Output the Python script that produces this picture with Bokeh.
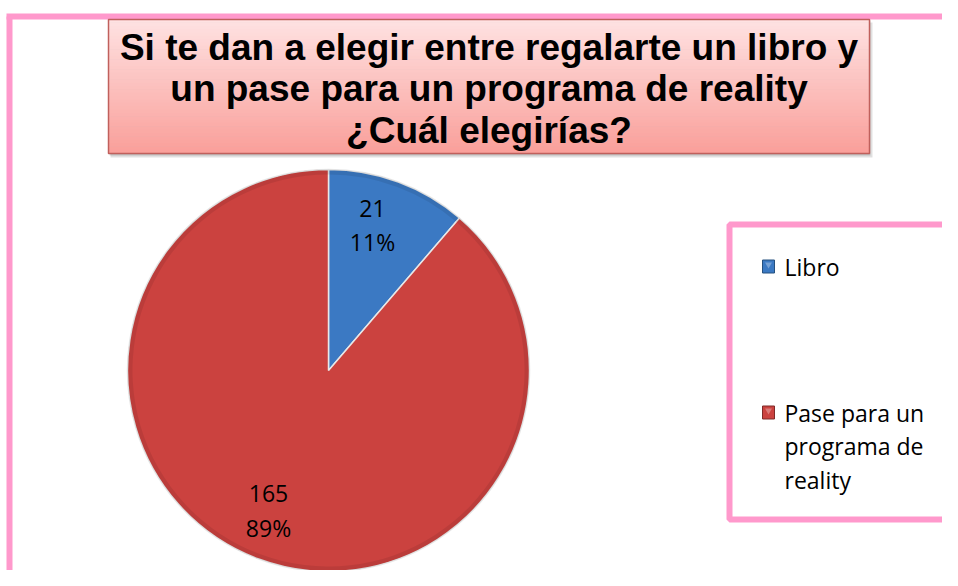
import math
from bokeh.plotting import figure
from bokeh.models import Range1d, ColumnDataSource
from bokeh.core.properties import value
from bokeh.embed import file_html
from bokeh.resources import INLINE

# ---- data ----
categories = ["Libro", "Pase para un programa de reality"]
counts = [21, 165]
colors = ["#3B79C3", "#CB423F"]
legend_lines = [["Libro"], ["Pase para un", "programa de", "reality"]]
title_lines = ["Si te dan a elegir entre regalarte un libro y",
               "un pase para un programa de reality",
               "¿Cuál elegirías?"]

W, H = 942, 570
p = figure(width=W, height=H, output_backend="svg", toolbar_location=None,
           x_range=Range1d(0, W), y_range=Range1d(0, H),
           min_border=0, outline_line_color=None)
p.axis.visible = False
p.grid.visible = False
p.background_fill_color = "white"
p.border_fill_color = "white"

def px(X):
    return X

def py(Y):
    return H - Y

PINK = "#FF99CC"
# outer frame (top and left visible)
p.segment(x0=[px(9), px(6)], y0=[py(16), py(16)], x1=[px(9), W + 5], y1=[py(600), py(16)],
          line_color=PINK, line_width=6)

# ---- title box with vertical gradient ----
bx0, bx1, by0, by1 = px(108), px(869), py(19), py(153)
p.quad(left=bx0 + 2, right=bx1 + 3, top=by0 - 3, bottom=by1 - 4, fill_color="#000000",
       fill_alpha=0.12, line_color=None)
p.quad(left=bx0 + 1, right=bx1 + 1, top=by0 - 1, bottom=by1 - 2, fill_color="#000000",
       fill_alpha=0.15, line_color=None)
n = 40
top_c = (255, 226, 226)
bot_c = (250, 160, 155)
for i in range(n):
    t = i / (n - 1)
    c = tuple(int(top_c[k] + (bot_c[k] - top_c[k]) * t) for k in range(3))
    yt = by0 - (by0 - by1) * i / n
    yb = by0 - (by0 - by1) * (i + 1) / n
    p.quad(left=bx0, right=bx1, top=yt + 0.5, bottom=yb, fill_color="#%02x%02x%02x" % c,
           line_color=None)
p.quad(left=bx0, right=bx1, top=by0, bottom=by1, fill_color=None,
       line_color="#C0605C", line_width=1.5)

title_y = [py(47), py(88), py(130)]
p.text(x=[(bx0 + bx1) / 2] * 3, y=title_y, text=title_lines,
       text_font=value("Liberation Sans"), text_font_style="bold",
       text_font_size="37px", text_align="center", text_baseline="middle",
       text_color="black")

# ---- pie ----
cx, cy, r = px(328), py(370), 201
total = sum(counts)
starts, ends = [], []
a = math.pi / 2
for v in counts:
    starts.append(a)
    a = a - 2 * math.pi * v / total
    ends.append(a)
src = ColumnDataSource(dict(start=starts, end=ends, color=colors, cat=categories))
p.wedge(x=cx, y=cy, radius=r, start_angle="start", end_angle="end", direction="clock",
        fill_color="color", line_color="#E8E8E8", line_width=1.5, source=src)
p.annular_wedge(x=cx, y=cy, inner_radius=r - 5, outer_radius=r, start_angle="start",
                end_angle="end", direction="clock", fill_color="black", fill_alpha=0.08,
                line_color=None, source=src)

# data labels
lab_x = [px(372), px(268)]
lab_y1 = [py(208), py(493)]
lab_y2 = [py(241), py(527)]
pcts = ["%d%%" % round(100 * v / total) for v in counts]
p.text(x=lab_x, y=lab_y1, text=[str(v) for v in counts], text_font=value("Open Sans"),
       text_font_size="23px", text_align="center", text_baseline="middle", text_color="black")
p.text(x=lab_x, y=lab_y2, text=pcts, text_font=value("Open Sans"),
       text_font_size="23px", text_align="center", text_baseline="middle", text_color="black")

# ---- legend box ----
p.quad(left=px(729), right=px(955), top=py(224), bottom=py(519), fill_color="white",
       line_color=PINK, line_width=6)
sq_y = [py(266), py(412)]
p.rect(x=[px(768)] * 2, y=sq_y, width=12, height=13, fill_color=colors,
       line_color=["#25507F", "#7F2A28"], line_width=1)
p.triangle(x=[px(768)] * 2, y=[y + 2 for y in sq_y], size=7, angle=math.pi,
           fill_color="white", fill_alpha=0.3, line_color=None)
leg_x, leg_y, leg_t = [], [], []
for i, lines in enumerate(legend_lines):
    for j, t in enumerate(lines):
        leg_x.append(px(784))
        leg_y.append(sq_y[i] - 33.5 * j)
        leg_t.append(t)
p.text(x=leg_x, y=leg_y, text=leg_t, text_font=value("Open Sans"), text_font_size="23px",
       text_align="left", text_baseline="middle", text_color="black")

open("out.html", "w").write(file_html(p, INLINE))
